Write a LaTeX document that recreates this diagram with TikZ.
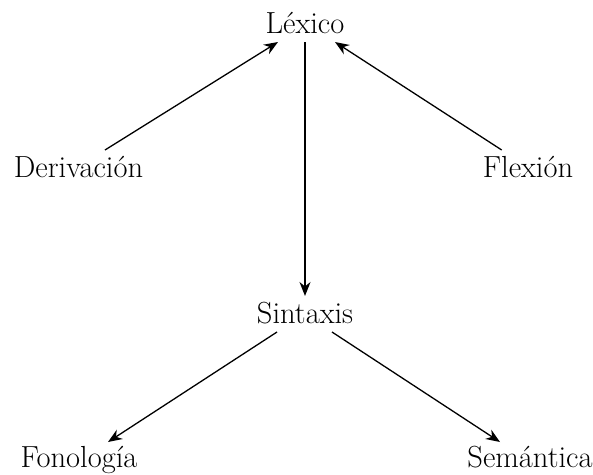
\documentclass[tikz,border=0pt]{standalone}
\usetikzlibrary{arrows.meta}
\begin{document}
\begin{tikzpicture}[x=1pt,y=-1pt,
  lbl/.style={inner sep=0pt,anchor=base,font=\fontsize{30.5}{36}\selectfont},
  conn/.style={line width=1.3pt,-{Stealth[length=14pt,width=11pt,inset=4.5pt]}}]
\useasboundingbox (0,0) rectangle (593,474);
\node[lbl] (lex) at (305,33) {Léxico};
\node[lbl] (der) at (78.5,177) {Derivación};
\node[lbl] (flex) at (528,177) {Flexión};
\node[lbl] (sin) at (305,323) {Sintaxis};
\node[lbl] (fono) at (79,467) {Fonología};
\node[lbl] (sem) at (530,467) {Semántica};
\draw[conn] ([shift={(26.5,-27)}]der.base) -- ([shift={(-27,9)}]lex.base);
\draw[conn] ([shift={(-26.3,-27)}]flex.base) -- ([shift={(30,9)}]lex.base);
\draw[conn] ([shift={(0,9)}]lex.base) -- ([shift={(0,-27)}]sin.base);
\draw[conn] ([shift={(-28,9)}]sin.base) -- ([shift={(29,-25)}]fono.base);
\draw[conn] ([shift={(27,9)}]sin.base) -- ([shift={(-30,-25)}]sem.base);
\end{tikzpicture}
\end{document}
